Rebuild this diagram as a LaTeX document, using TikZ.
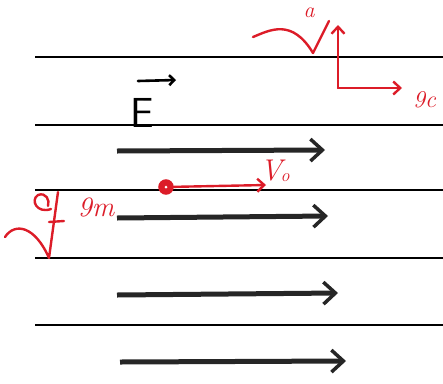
\documentclass[tikz,border=0pt]{standalone}
\usetikzlibrary{arrows.meta}
\definecolor{pen}{RGB}{220,28,40}
\begin{document}
\begin{tikzpicture}[x=1pt,y=-1pt,
  plate/.style={line width=2pt,black},
  field/.style={line width=5pt,black!85,-{Straight Barb[length=12pt,width=22pt,line width=3.5pt]}},
  redline/.style={line width=2.4pt,pen,line cap=round,line join=round},
  redarrow/.style={line width=2.4pt,pen,line cap=round,-{Straight Barb[length=7pt,width=13pt]}},
  redtxt/.style={text=pen,inner sep=0pt}]
\useasboundingbox (0,0) rectangle (443,383);
% plates
\foreach \i/\y in {1/57,2/125,3/190,4/258,5/325}{
  \coordinate (pl\i) at (35,\y); \coordinate (pr\i) at (443,\y);
  \draw[plate] (pl\i) -- (pr\i);}
% field arrows
\coordinate (a1s) at (117,151); \coordinate (a1e) at (325,150);
\coordinate (a2s) at (117,218); \coordinate (a2e) at (328,216);
\coordinate (a3s) at (117,295); \coordinate (a3e) at (338,293);
\coordinate (a4s) at (120,362); \coordinate (a4e) at (346,361);
\draw[field] (a1s) -- (a1e);
\draw[field] (a2s) -- (a2e);
\draw[field] (a3s) -- (a3e);
\draw[field] (a4s) -- (a4e);
% E vector label
\node[font=\fontsize{42}{42}\selectfont\sffamily,inner sep=0pt,anchor=base] (E) at (142,127) {E};
\coordinate (ea) at (138,81); \coordinate (eb) at (176,80);
\draw[line width=2.6pt,line cap=round,-{Straight Barb[length=5pt,width=10pt]}] (ea) -- (eb);
% particle
\node[circle,draw=pen,fill=pen,line width=1.5pt,minimum size=14pt,inner sep=0pt] (q) at (166,187) {};
\node[circle,fill=white,minimum size=3pt,inner sep=0pt] at (166,187) {};
\coordinate (v) at (266,185);
\draw[redarrow] (q) -- (v);
\node[redtxt,font=\fontsize{30}{30}\selectfont\itshape] (vV) at (271,171) {V};
\node[redtxt,font=\fontsize{18}{18}\selectfont\itshape] (vo) at (285,178) {o};
% axes
\coordinate (o) at (338,88); \coordinate (yt) at (338,25); \coordinate (xt) at (402,88);
\draw[redarrow] (o) -- (yt);
\draw[redarrow] (o) -- (xt);
\node[redtxt,font=\fontsize{24}{24}\selectfont\itshape,anchor=west] (xl) at (413,100) {9c};
\coordinate (t1) at (253,37); \coordinate (t2) at (313,53); \coordinate (t3) at (329,21);
\draw[redline] (t1) .. controls (270,30) and (292,18) .. (t2) -- (t3);
\node[redtxt,font=\fontsize{22}{22}\selectfont\itshape] (al) at (309,13) {a};
% left label
\coordinate (l1) at (5,237); \coordinate (l2) at (49,258); \coordinate (l3) at (58,192);
\draw[redline] (l1) .. controls (15,222) and (35,226) .. (l2) -- (l3);
\draw[redline] (51,209) .. controls (37,214) and (30,200) .. (38,195) .. controls (46,192) and (50,200) .. (48,206);
\coordinate (k1) at (49,222); \coordinate (k2) at (64,221);
\draw[redline] (k1) -- (k2);
\node[redtxt,font=\fontsize{28}{28}\selectfont\itshape] (nm) at (96,207) {9m};
\end{tikzpicture}
\end{document}
